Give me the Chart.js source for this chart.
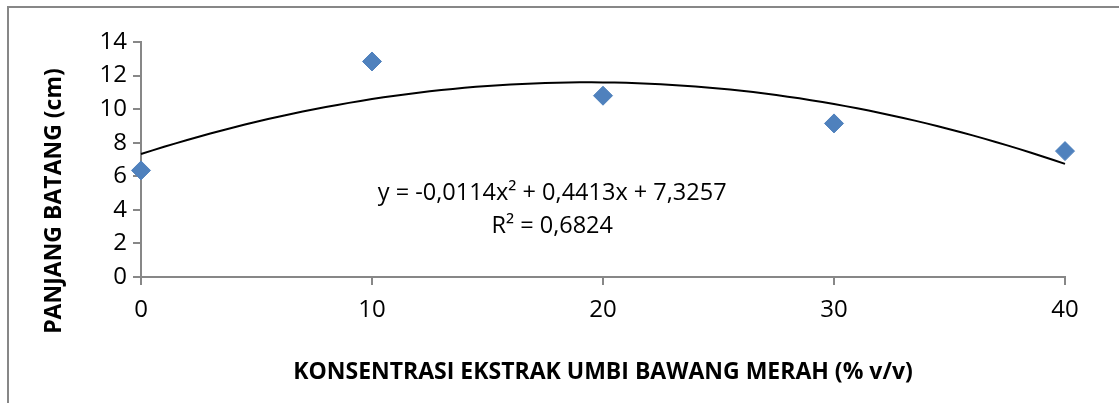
<!DOCTYPE html>
<html>
<head>
<meta charset="utf-8">
<title>Panjang Batang</title>
<script src="https://cdn.jsdelivr.net/npm/chart.js@4.4.1/dist/chart.umd.min.js"></script>
<style>
  html, body { margin: 0; padding: 0; background: #fff; }
  #wrap { width: 1119px; height: 403px; }
</style>
</head>
<body>
<div id="wrap"><canvas id="chart" width="1119" height="403"></canvas></div>
<script>
// data
const konsentrasi = [0, 10, 20, 30, 40];
const panjangBatang = [6.35, 12.84, 10.8, 9.15, 7.5];
const xTicks = [0, 10, 20, 30, 40];
const yTicks = [0, 2, 4, 6, 8, 10, 12, 14];
// polynomial trendline (order 2), as printed on the chart
const trendCoef = [-0.0114, 0.4413, 7.3257];
const trendText = ["y = -0,0114x\u00B2 + 0,4413x + 7,3257", "R\u00B2 = 0,6824"];
const xTitle = "KONSENTRASI EKSTRAK UMBI BAWANG MERAH (% v/v)";
const yTitle = "PANJANG BATANG (cm)";

const FONT = "'Open Sans', sans-serif";
const AXIS_GREY = "#878787";

// white background + outer frame (left and top edges only are visible)
const framePlugin = {
  id: "frame",
  beforeDraw(chart) {
    const ctx = chart.ctx;
    ctx.save();
    ctx.fillStyle = "#fff";
    ctx.fillRect(0, 0, chart.width, chart.height);
    ctx.strokeStyle = AXIS_GREY;
    ctx.lineWidth = 2;
    ctx.beginPath();
    ctx.moveTo(8, chart.height);
    ctx.lineTo(8, 7);
    ctx.lineTo(chart.width, 7);
    ctx.stroke();
    ctx.restore();
  }
};

// trendline drawn through the chart's own scales
const trendPlugin = {
  id: "trend",
  beforeDatasetsDraw(chart) {
    const { ctx, scales: { x, y } } = chart;
    const f = v => trendCoef[0] * v * v + trendCoef[1] * v + trendCoef[2];
    ctx.save();
    ctx.strokeStyle = "#000";
    ctx.lineWidth = 2;
    ctx.beginPath();
    const x0 = konsentrasi[0], x1 = konsentrasi[konsentrasi.length - 1];
    for (let i = 0; i <= 80; i++) {
      const v = x0 + (x1 - x0) * i / 80;
      const px = x.getPixelForValue(v), py = y.getPixelForValue(f(v));
      if (i === 0) ctx.moveTo(px, py); else ctx.lineTo(px, py);
    }
    ctx.stroke();

    // equation label
    ctx.fillStyle = "#000";
    ctx.font = "23.5px " + FONT;
    ctx.textAlign = "center";
    ctx.textBaseline = "alphabetic";
    const cx = x.getPixelForValue(17.8);
    ctx.fillText(trendText[0], cx, y.getPixelForValue(4.6));
    ctx.fillText(trendText[1], cx, y.getPixelForValue(2.65));

    // y axis title
    ctx.font = "bold 23px " + FONT;
    ctx.translate(54, 201);
    ctx.rotate(-Math.PI / 2);
    ctx.textBaseline = "middle";
    ctx.fillText(yTitle, 0, 0);
    ctx.restore();
  }
};

new Chart(document.getElementById("chart"), {
  type: "scatter",
  data: {
    datasets: [{
      label: "Panjang batang",
      data: konsentrasi.map((k, i) => ({ x: k, y: panjangBatang[i] })),
      pointStyle: "rectRot",
      pointRadius: 9.5,
      pointHoverRadius: 9.5,
      backgroundColor: "#4F81BD",
      borderColor: "#4F81BD",
      borderWidth: 1,
      clip: false
    }]
  },
  options: {
    responsive: false,
    animation: false,
    events: [],
    layout: { padding: { left: 0, top: 42, right: 54, bottom: 0 } },
    plugins: { legend: { display: false }, tooltip: { enabled: false } },
    scales: {
      x: {
        type: "linear",
        min: 0,
        max: 40,
        afterBuildTicks: s => { s.ticks = xTicks.map(v => ({ value: v })); },
        afterFit: s => { s.height = 126; },
        border: { color: AXIS_GREY, width: 2 },
        grid: { drawOnChartArea: false, drawTicks: true, tickLength: 8, color: AXIS_GREY, lineWidth: 2 },
        ticks: { color: "#000", font: { family: FONT, size: 24 }, padding: 11 },
        title: {
          display: true,
          text: xTitle,
          color: "#000",
          font: { family: FONT, size: 23, weight: "bold" },
          padding: { top: 4, bottom: 17 }
        }
      },
      y: {
        type: "linear",
        min: 0,
        max: 14,
        afterBuildTicks: s => { s.ticks = yTicks.map(v => ({ value: v })); },
        afterFit: s => { s.width = 141; },
        border: { color: AXIS_GREY, width: 2 },
        grid: { drawOnChartArea: false, drawTicks: true, tickLength: 8, color: AXIS_GREY, lineWidth: 2 },
        ticks: { color: "#000", font: { family: FONT, size: 24 }, padding: 6 }
      }
    }
  },
  plugins: [framePlugin, trendPlugin]
});
</script>
</body>
</html>
